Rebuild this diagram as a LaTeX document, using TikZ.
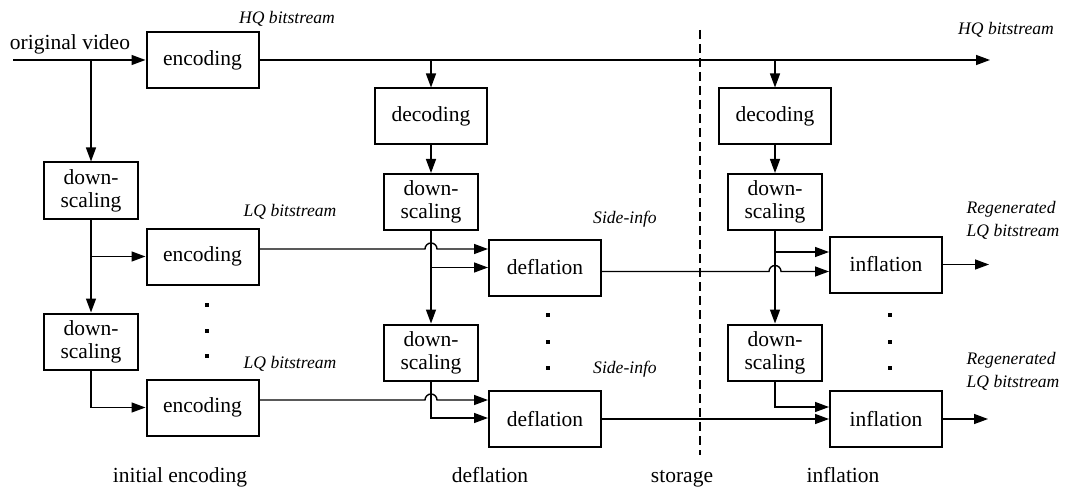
\documentclass[tikz,border=0pt]{standalone}
\usepackage{fontspec}
\setmainfont{Liberation Serif}
\usetikzlibrary{arrows.meta,calc}

\begin{document}
\begin{tikzpicture}[x=0.5pt,y=-0.5pt,
  box/.style={draw,line width=1pt,minimum width=56pt,minimum height=28pt,inner sep=0pt,font=\fontsize{10.75}{11.5}\selectfont},
  dsbox/.style={box,minimum width=47pt,align=center},
  lab/.style={font=\fontsize{8.8}{11.5}\selectfont\itshape,inner sep=0pt},
  stage/.style={font=\fontsize{10.75}{12}\selectfont,inner sep=0pt,anchor=base},
  line/.style={line width=0.7pt},
  arr/.style={line,-{Triangle[length=7pt,width=5pt]}}]
\useasboundingbox (0,0) rectangle (1068,486);

\node[box] (enc1) at (202.5,60) {encoding};
\node[box] (dec1) at (431,116.5) {decoding};
\node[box] (dec2) at (775,116.5) {decoding};
\node[dsbox] (dsL1) at (91,190.5) {down-\\scaling};
\node[dsbox] (dsM1) at (431,202) {down-\\scaling};
\node[dsbox] (dsR1) at (775,202) {down-\\scaling};
\node[box] (enc2) at (202.5,256.5) {encoding};
\node[box] (def1) at (545,267.5) {deflation};
\node[box] (inf1) at (886,264.5) {inflation};
\node[dsbox] (dsL2) at (91,341.5) {down-\\scaling};
\node[dsbox] (dsM2) at (431,352.5) {down-\\scaling};
\node[dsbox] (dsR2) at (775,352.5) {down-\\scaling};
\node[box] (enc3) at (202.5,407.5) {encoding};
\node[box] (def2) at (545,419) {deflation};
\node[box] (inf2) at (886,419) {inflation};

\coordinate (vin) at (13,60);
\coordinate (hqout) at (990,60);
\coordinate (out1) at (989,264.5);
\coordinate (out2) at (988,419);
\coordinate (lq1) at ([yshift=3.75pt]enc2.east);
\coordinate (lq2) at ([yshift=3.75pt]enc3.east);
\coordinate (so1) at ([yshift=-2pt]def1.east);
\coordinate (r1) at ([yshift=6.25pt]inf1.west);

\node[stage] (vlab) at (70,50) {original video};
\draw[arr] (vin) -- (enc1.west);
\draw[arr] (dsL1 |- vin) -- (dsL1.north);
\draw[arr] (enc1.east) -- (hqout);
\draw[arr] (dec1 |- enc1) -- (dec1.north);
\draw[arr] (dec2 |- enc1) -- (dec2.north);
\draw[arr] (dec1) -- (dsM1);
\draw[arr] (dec2) -- (dsR1);
\draw[arr] (dsL1) -- (dsL2);
\draw[arr] (dsM1) -- (dsM2);
\draw[arr] (dsR1) -- (dsR2);
\draw[arr] (dsL1 |- enc2) -- (enc2.west);
\draw[arr] (dsL2.south) |- (enc3.west);

\draw[arr] (lq1) -- ($(lq1 -| dsM1)+(-6,0)$) arc[start angle=180,end angle=360,radius=6] -- (lq1 -| def1.west);
\draw[arr] (dsM1 |- def1.west) -- (def1.west);
\draw[arr] (so1) -- ($(so1 -| dsR1)+(-6,0)$) arc[start angle=180,end angle=360,radius=6] -- (so1 -| inf1.west);
\draw[arr] (r1 -| dsR1) -- (r1);
\draw[arr] (inf1.east) -- (out1);

\draw[arr] (lq2) -- ($(lq2 -| dsM2)+(-6,0)$) arc[start angle=180,end angle=360,radius=6] -- (lq2 -| def2.west);
\draw[arr] (dsM2.south) |- ([yshift=0.5pt]def2.west);
\draw[arr] (def2.east) -- (def2.east -| inf2.west);
\draw[arr] (dsR2.south) |- ([yshift=6pt]inf2.west);
\draw[arr] (inf2.east) -- (out2);

\draw[line width=0.6pt,dash pattern=on 4.5pt off 2.5pt] (700,30) -- (700,455);

\foreach \y in {305,331,356} \fill (205,\y-1.75) rectangle +(3.5,3.5);
\foreach \x in {548,890} \foreach \y in {315,342,368} \fill (\x-1.75,\y-1.75) rectangle +(3.5,3.5);

\node[lab] (hq1) at (287,19) {HQ bitstream};
\node[lab] (hq2) at (1006,30) {HQ bitstream};
\node[lab] (lqa) at (290,212) {LQ bitstream};
\node[lab] (lqb) at (290,364) {LQ bitstream};
\node[lab] (sia) at (625,219) {Side-info};
\node[lab] (sib) at (625,369) {Side-info};
\node[lab,align=left] (rga) at (1013,220) {Regenerated\\LQ bitstream};
\node[lab,align=left] (rgb) at (1013,371) {Regenerated\\LQ bitstream};

\node[stage] (st1) at (180,482) {initial encoding};
\node[stage] (st2) at (490,482) {deflation};
\node[stage] (st3) at (682,482) {storage};
\node[stage] (st4) at (843,482) {inflation};
\end{tikzpicture}
\end{document}
